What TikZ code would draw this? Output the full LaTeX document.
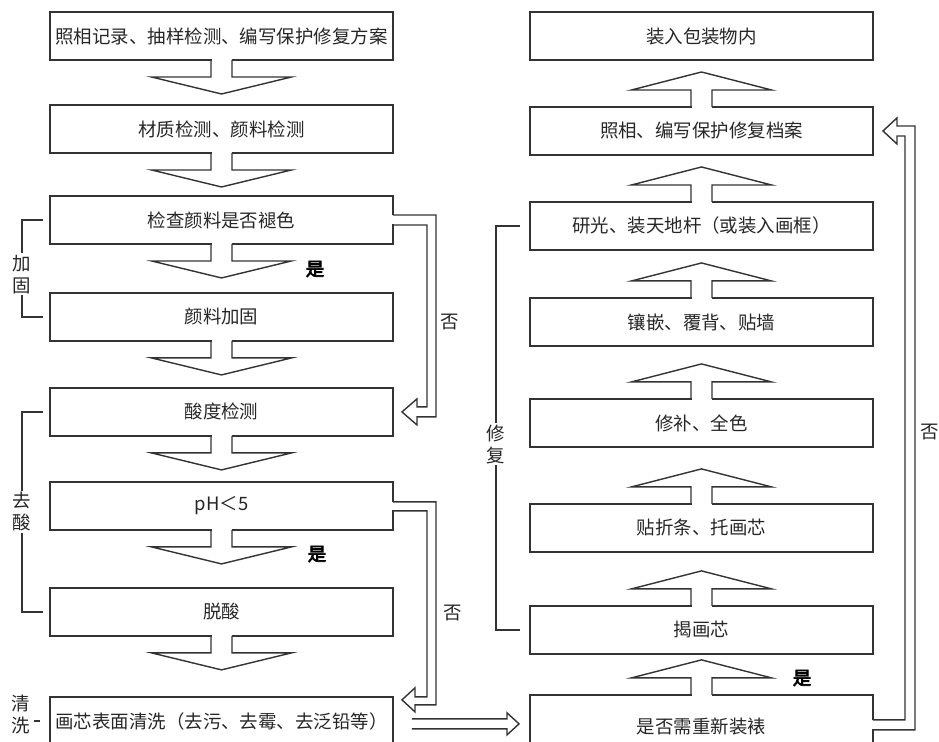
\documentclass[tikz,border=0pt]{standalone}
\usepackage{fontspec}
\setmainfont{Noto Sans CJK SC}
\newfontfamily\heavyfont[FakeBold=4]{Noto Sans CJK SC}
\usepackage{tikz}
\usetikzlibrary{positioning,calc}
\tikzset{>=stealth}
\tikzset{
  stepbox/.style={draw=black!80, line width=0.8pt, minimum width=6.86cm, minimum height=0.96cm, inner sep=0pt, outer sep=0pt,
    font=\fontsize{10.5pt}{12pt}\selectfont, text=black!85},
  side/.style={fill=white, inner sep=1pt, align=center, font=\fontsize{10.5pt}{12.5pt}\selectfont, text=black!85},
  yes/.style={inner sep=0pt, font=\heavyfont\fontsize{10.5pt}{12pt}\selectfont},
  line/.style={draw=black!80, line width=0.8pt},
  downarr/.pic={
    \fill[white] (-10,-1.5) rectangle (10,1.5);
    \draw[line] (-10.5,0) -- (-10.5,17) -- (-70,17) -- (0,34) -- (70,17) -- (10.5,17) -- (10.5,0);
  },
  uparr/.pic={
    \fill[white] (-10,-1.5) rectangle (10,1.5);
    \draw[line] (-10.5,0) -- (-10.5,-17) -- (-70,-17) -- (0,-35) -- (70,-17) -- (10.5,-17) -- (10.5,0);
  }
}

\begin{document}
\begin{tikzpicture}[x=0.02cm, y=-0.02cm]
\useasboundingbox (0,0) rectangle (939,742);
\clip (0,0) rectangle (939,742);

% left column
\node[stepbox] (l1) at (221.5,36) {照相记录、抽样检测、编写保护修复方案};
\node[stepbox, below=0.90cm of l1] (l2) {材质检测、颜料检测};
\node[stepbox, below=0.86cm of l2] (l3) {检查颜料是否褪色};
\node[stepbox, below=0.98cm of l3] (l4) {颜料加固};
\node[stepbox, below=0.94cm of l4] (l5) {酸度检测};
\node[stepbox, below=0.92cm of l5] (l6) {pH＜5};
\node[stepbox, below=1.16cm of l6] (l7) {脱酸};
\node[stepbox, below=1.22cm of l7, minimum height=1.0cm] (l8) {画芯表面清洗（去污、去霉、去泛铅等）};

\pic at (l1.south) {downarr};
\pic at (l2.south) {downarr};
\pic at (l3.south) {downarr};
\pic at (l4.south) {downarr};
\pic at (l5.south) {downarr};
\pic at (l6.south) {downarr};
\pic at (l7.south) {downarr};

% right column
\node[stepbox] (r1) at (701.5,36) {装入包装物内};
\node[stepbox, below=0.94cm of r1] (r2) {照相、编写保护修复档案};
\node[stepbox, below=0.94cm of r2] (r3) {研光、装天地杆（或装入画框）};
\node[stepbox, below=0.96cm of r3] (r4) {镶嵌、覆背、贴墙};
\node[stepbox, below=1.06cm of r4] (r5) {修补、全色};
\node[stepbox, below=1.14cm of r5] (r6) {贴折条、托画芯};
\node[stepbox, below=1.08cm of r6] (r7) {揭画芯};
\node[stepbox, below=0.82cm of r7, minimum height=1.28cm] (r8) {是否需重新装裱};

\pic at (r2.north) {uparr};
\pic at (r3.north) {uparr};
\pic at (r4.north) {uparr};
\pic at (r5.north) {uparr};
\pic at (r6.north) {uparr};
\pic at (r7.north) {uparr};
\pic at (r8.north) {uparr};

% yes marks
\node[yes] (y1) at (315,269) {是};
\node[yes] (y2) at (317,554) {是};
\node[yes] (y3) at (802,678) {是};

% no branches
\fill[white] ($(l3.east)+(-1.5,-4.5)$) rectangle ($(l3.east)+(1.5,4.5)$);
\draw[line] ($(l3.east)+(0,-5)$) -| ($(l5.east)+(43,5)$) -- ($(l5.east)+(24,5)$) -- ++(0,8)
  -- ($(l5.east)+(9,0)$) -- ($(l5.east)+(24,-13)$) -- ++(0,8) -| ($(l3.east)+(34,5)$) -- ($(l3.east)+(0,5)$);
\node[side] (n1) at (450,322) {否};

\fill[white] ($(l6.east)+(-1.5,-3.5)$) rectangle ($(l6.east)+(1.5,4.5)$);
\draw[line] ($(l6.east)+(0,-4)$) -| ($(l8.north east)+(43,8)$) -- ($(l8.north east)+(22,8)$) -- ++(0,7)
  -- ($(l8.north east)+(9,3)$) -- ($(l8.north east)+(22,-9)$) -- ++(0,9) -| ($(l6.east)+(34,5)$) -- ($(l6.east)+(0,5)$);
\node[side] (n2) at (453,613) {否};

\fill[white] ($(r8.north east)+(-1.5,25.5)$) rectangle ($(r8.north east)+(1.5,34.5)$);
\draw[line] ($(r8.north east)+(0,25)$) -| ($(r2.east)+(32,5)$) -- ($(r2.east)+(24,5)$) -- ++(0,8)
  -- ($(r2.east)+(10,0)$) -- ($(r2.east)+(24,-13)$) -- ++(0,8) -| ($(r8.north east)+(42,35)$) -- ($(r8.north east)+(0,35)$);
\node[side] (n3) at (930,432) {否};

% across
\coordinate (h1) at ($(l8.north east)+(19,27)$);
\coordinate (h2) at ($(r8.north west)+(-11,29)$);
\draw[line] ($(h1)+(0,-5)$) -- ($(h2)+(-12,-5)$) -- ++(0,-6) -- (h2) -- ($(h2)+(-12,11)$) -- ++(0,-6) -- ($(h1)+(0,5)$);

% side brackets
\draw[line] ($(l3.west)+(-7,0)$) -- ++(-21,0) |- node[side, pos=0.28] (s1) {加\\固} ($(l4.west)+(-7,0)$);
\draw[line] ($(l5.west)+(-7,0)$) -- ++(-21,0) |- node[side, pos=0.25] (s2) {去\\酸} ($(l7.west)+(-7,0)$);
\draw[line] ($(r3.west)+(-10,0)$) -- ++(-24,0) |- node[side, pos=0.27] (s3) {修\\复} ($(r7.west)+(-10,0)$);
\node[side] (s4) at ($(l8.north west)+(-29,18)$) {清\\洗};
\draw[line] ($(l8.north west)+(-10,24)$) -- ++(-6,0);
\end{tikzpicture}
\end{document}
